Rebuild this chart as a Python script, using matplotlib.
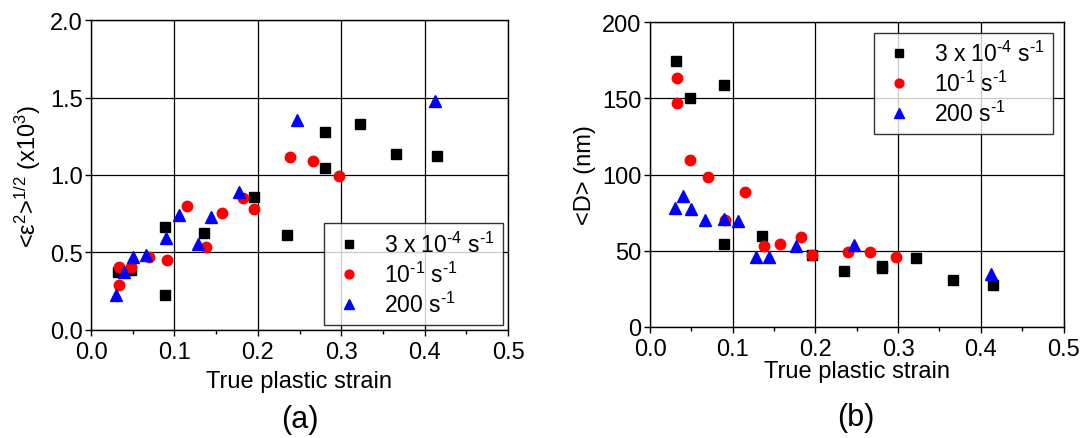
import matplotlib
matplotlib.use('Agg')
import matplotlib.pyplot as plt
from matplotlib.ticker import MultipleLocator

plt.rcParams['font.family'] = ['Liberation Sans', 'DejaVu Sans']
plt.rcParams['mathtext.fontset'] = 'custom'
plt.rcParams['mathtext.rm'] = 'Liberation Sans'
plt.rcParams['mathtext.it'] = 'Liberation Sans:italic'
plt.rcParams['mathtext.default'] = 'regular'

# strain values (same samples in both panels)
x_slow = [0.032, 0.048, 0.089, 0.089, 0.135, 0.196, 0.235, 0.281, 0.281, 0.322, 0.366, 0.415]
x_mid = [0.033, 0.033, 0.048, 0.070, 0.091, 0.115, 0.138, 0.157, 0.182, 0.196, 0.239, 0.266, 0.297]
x_fast = [0.030, 0.040, 0.050, 0.066, 0.090, 0.106, 0.128, 0.144, 0.177, 0.247, 0.412]

# (a) microstrain <e^2>^1/2 x10^3
eps_slow = [0.375, 0.385, 0.666, 0.222, 0.625, 0.860, 0.614, 1.280, 1.043, 1.330, 1.138, 1.125]
eps_mid = [0.403, 0.289, 0.403, 0.468, 0.453, 0.802, 0.537, 0.752, 0.851, 0.780, 1.116, 1.091, 0.996]
eps_fast = [0.224, 0.375, 0.468, 0.485, 0.593, 0.741, 0.554, 0.731, 0.888, 1.353, 1.481]

# (b) crystallite size <D> nm
d_slow = [174.8, 150.1, 159.0, 54.1, 59.4, 47.1, 36.6, 40.1, 38.3, 45.1, 30.4, 27.6]
d_mid = [163.4, 147.0, 109.5, 98.6, 70.3, 88.7, 53.2, 54.1, 59.1, 47.3, 48.9, 49.1, 45.6]
d_fast = [78.0, 85.7, 77.3, 70.1, 70.8, 69.7, 45.6, 45.6, 52.8, 53.9, 34.4]

labels = ['3 x 10$^{‐4}$ s$^{‐1}$', '10$^{‐1}$ s$^{‐1}$', '200 s$^{‐1}$']
fs = 17

fig = plt.figure(figsize=(10.82, 4.39), dpi=100)
ax1 = fig.add_axes([91 / 1082, (439 - 330.7) / 439, 417 / 1082, 309.4 / 439])
ax2 = fig.add_axes([650 / 1082, (439 - 327.7) / 439, 413.5 / 1082, 304.4 / 439])


def draw(ax, ys):
    ax.plot(x_slow, ys[0], 's', color='black', ms=7, label=labels[0], zorder=3)
    ax.plot(x_mid, ys[1], 'o', color='red', ms=7.5, label=labels[1], zorder=3)
    ax.plot(x_fast, ys[2], '^', color='blue', ms=8, label=labels[2], zorder=3)
    ax.set_xlim(0, 0.5)
    ax.xaxis.set_major_locator(MultipleLocator(0.1))
    ax.xaxis.set_minor_locator(MultipleLocator(0.05))
    ax.grid(True, which='major', color='black', lw=0.9)
    ax.set_axisbelow(True)
    ax.tick_params(which='major', direction='out', length=4, width=1, labelsize=fs, pad=2)
    ax.tick_params(axis='x', which='major', pad=4)
    ax.tick_params(which='minor', direction='out', length=3, width=1)
    for s in ax.spines.values():
        s.set_linewidth(1)
    ax.set_xticklabels([f'{v:.1f}' for v in ax.get_xticks()])


def legend(ax, loc, pad):
    leg = ax.legend(loc=loc, fontsize=fs - 0.5, frameon=True, fancybox=False,
                    edgecolor='black', borderaxespad=pad, borderpad=0.35,
                    handlelength=1.5, handletextpad=0.8, labelspacing=0.22,
                    markerscale=0.85)
    leg.get_frame().set_linewidth(1)


draw(ax1, [eps_slow, eps_mid, eps_fast])
ax1.set_ylim(0, 2.0)
ax1.set_yticks([0, 0.5, 1.0, 1.5, 2.0])
ax1.set_yticklabels(['0.0', '0.5', '1.0', '1.5', '2.0'])
ax1.set_xlabel('True plastic strain', fontsize=fs)
ax1.xaxis.set_label_coords(0.5, -0.13)
ax1.set_ylabel('<$\\mathrm{ε}^{2}$>$^{1/2}$ (x10$^{3}$)', fontsize=fs)
ax1.yaxis.set_label_coords(-0.115, 0.5)
legend(ax1, 'lower right', 0.2)

draw(ax2, [d_slow, d_mid, d_fast])
ax2.set_ylim(0, 200)
ax2.set_yticks([0, 50, 100, 150, 200])
ax2.set_xlabel('True plastic strain', fontsize=fs)
ax2.xaxis.set_label_coords(0.5, -0.11)
ax2.set_ylabel('<D> (nm)', fontsize=fs)
ax2.yaxis.set_label_coords(-0.13, 0.5)
legend(ax2, 'upper right', 0.45)

fig.text(299.5 / 1082, (439 - 420) / 439, '(a)', fontsize=22, ha='center', va='center')
fig.text(856 / 1082, (439 - 418) / 439, '(b)', fontsize=22, ha='center', va='center')

fig.savefig('out.png', dpi=100)
